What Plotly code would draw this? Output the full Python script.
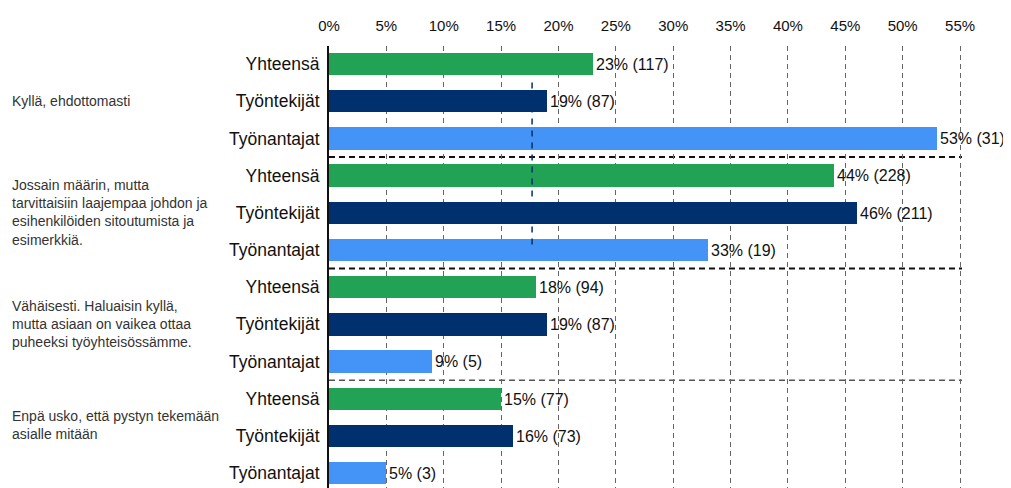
import plotly.graph_objects as go

groups = [
    "Kyllä, ehdottomasti",
    "Jossain määrin, mutta<br>tarvittaisiin laajempaa johdon ja<br>esihenkilöiden sitoutumista ja<br>esimerkkiä.",
    "Vähäisesti. Haluaisin kyllä,<br>mutta asiaan on vaikea ottaa<br>puheeksi työyhteisössämme.",
    "Enpä usko, että pystyn tekemään<br>asialle mitään",
]
series = ["Yhteensä", "Työntekijät", "Työnantajat"]
colors = ["#22A254", "#00306E", "#4493F7"]

pct_yhteensa = [23, 44, 18, 15]
pct_tyontekijat = [19, 46, 19, 16]
pct_tyonantajat = [53, 33, 9, 5]
n_yhteensa = [117, 228, 94, 77]
n_tyontekijat = [87, 211, 87, 73]
n_tyonantajat = [31, 19, 5, 3]

xticks = list(range(0, 60, 5))
avg_line_x = 17.7

pcts = [pct_yhteensa, pct_tyontekijat, pct_tyonantajat]
ns = [n_yhteensa, n_tyontekijat, n_tyonantajat]

# page body has an 8px margin; size the figure so it ends at the window edge
OFF = 8
W = 1011 - OFF
H = 488 - OFF
L = 329 - OFF
R_EDGE = 962 - OFF
T = 46 - OFF
B = 0
PW = R_EDGE - L

fig = go.Figure()
for si, name in enumerate(series):
    ys = [gi * 3 + si for gi in range(len(groups))]
    fig.add_trace(go.Bar(
        x=pcts[si], y=ys, orientation="h", name=name,
        marker=dict(color=colors[si], line=dict(width=0)),
        width=0.6,
        text=[f"{p}% ({n})" for p, n in zip(pcts[si], ns[si])],
        textposition="outside", cliponaxis=False,
        textfont=dict(family="Liberation Sans, Arial", size=16, color="#111"),
    ))

rows = len(groups) * 3
tickvals = list(range(rows))
ticktext = [series[i % 3] for i in range(rows)]

shapes = []
for k, col, w in [(2.5, "#111", 2), (5.5, "#111", 2), (8.5, "#555", 1.5)]:
    shapes.append(dict(type="line", xref="paper", x0=0, x1=1, yref="y", y0=k, y1=k,
                       line=dict(color=col, width=w, dash="6px,4px"), layer="below"))
shapes.append(dict(type="line", xref="x", x0=avg_line_x, x1=avg_line_x, yref="y", y0=0.5, y1=4.9,
                   line=dict(color="#00306E", width=1.5, dash="6px,6px"), layer="above"))

annotations = []
group_y = [1, 4, 7, 9.7]
for g, gy in zip(groups, group_y):
    annotations.append(dict(text=g, xref="paper", x=(10 - OFF - L) / PW, xanchor="left",
                            yref="y", y=gy, yanchor="middle", showarrow=False, align="left",
                            font=dict(family="Liberation Sans, Arial", size=14, color="#333")))

fig.update_layout(
    width=W, height=H,
    margin=dict(l=L, r=W - R_EDGE, t=T, b=B),
    plot_bgcolor="white", paper_bgcolor="white",
    showlegend=False, bargap=0,
    shapes=shapes, annotations=annotations,
    font=dict(family="Liberation Sans, Arial", color="#111"),
    xaxis=dict(side="top", range=[0, 55.17], tickvals=xticks,
               ticktext=[f"{t}%" for t in xticks],
               showgrid=True, gridcolor="#666", gridwidth=1, griddash="5px,4px",
               zeroline=False, showline=False,
               ticks="outside", ticklen=8, tickcolor="rgba(0,0,0,0)",
               tickfont=dict(size=15, color="#111")),
    yaxis=dict(range=[11.40, -0.484], tickvals=tickvals, ticktext=ticktext,
               showgrid=False, zeroline=False, showline=True, linecolor="#111", linewidth=2,
               ticks="outside", ticklen=4, tickcolor="rgba(0,0,0,0)",
               tickfont=dict(size=17.5, color="#111")),
)

fig.write_html("out.html")
